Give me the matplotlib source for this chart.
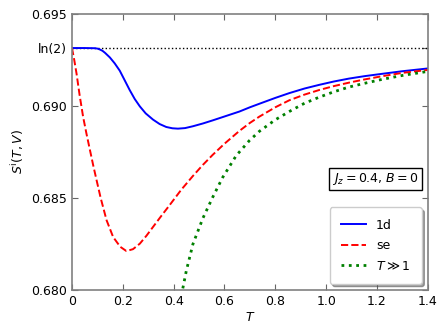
import numpy as np
from matplotlib import pyplot as plt

# 1d curve
T_1d = [0, 0.05, 0.09, 0.10, 0.11, 0.12, 0.13, 0.149, 0.168, 0.188, 0.207, 0.227, 0.247, 0.267,
        0.29, 0.319, 0.345, 0.371, 0.395, 0.417, 0.445, 0.476, 0.515, 0.554, 0.60,
        0.659, 0.70, 0.737, 0.80, 0.855, 0.915, 0.973, 1.03, 1.09, 1.15, 1.221, 1.30, 1.40]
S_1d = [0.69315, 0.69315, 0.69314, 0.69312, 0.69307, 0.69300, 0.69289, 0.69264, 0.69232,
        0.69192, 0.69141, 0.69087, 0.69038, 0.68998, 0.68960, 0.68926, 0.68902, 0.68886,
        0.68879, 0.68877, 0.68880, 0.68890, 0.68905, 0.68922, 0.68943, 0.68970, 0.68993,
        0.69012, 0.69044, 0.69070, 0.69095, 0.69115, 0.69133, 0.69149, 0.69162, 0.69175,
        0.69189, 0.69204]

# se curve
T_se = [0, 0.009, 0.018, 0.03, 0.044, 0.057, 0.071, 0.084, 0.097, 0.113, 0.136, 0.162,
        0.19, 0.214, 0.24, 0.267, 0.293, 0.319, 0.35, 0.384, 0.43, 0.476, 0.515, 0.554,
        0.60, 0.659, 0.70, 0.737, 0.80, 0.855, 0.915, 0.973, 1.03, 1.09, 1.15, 1.221, 1.30, 1.40]
S_se = [0.69315, 0.69250, 0.69176, 0.69060, 0.68940, 0.68850, 0.68759, 0.68675, 0.68596,
        0.68500, 0.68380, 0.68288, 0.68235, 0.68212, 0.68222, 0.68252, 0.68295, 0.68343,
        0.68400, 0.68461, 0.68545, 0.68620, 0.68680, 0.68735, 0.68795, 0.68865, 0.68908,
        0.68942, 0.68993, 0.69031, 0.69062, 0.69087, 0.69108, 0.69127, 0.69144, 0.69162,
        0.69180, 0.69196]

# high temperature curve
T_hi = [0.43, 0.437, 0.45, 0.476, 0.515, 0.554, 0.593, 0.646, 0.698, 0.737, 0.80, 0.855,
        0.915, 0.973, 1.03, 1.09, 1.15, 1.221, 1.30, 1.40]
S_hi = [0.6797, 0.68015, 0.68105, 0.68250, 0.68390, 0.68505, 0.68612, 0.68730, 0.68812,
        0.68862, 0.68925, 0.68970, 0.69015, 0.69048, 0.69077, 0.69103, 0.69123, 0.69145,
        0.69166, 0.69188]

xticks = [0, 0.2, 0.4, 0.6, 0.8, 1.0, 1.2, 1.4]
xlabels = ['0', '0.2', '0.4', '0.6', '0.8', '1.0', '1.2', '1.4']
yticks = [0.680, 0.685, 0.690, np.log(2), 0.695]
ylabels = ['0.680', '0.685', '0.690', 'ln(2)', '0.695']

plt.rcParams['font.size'] = 9
fig = plt.figure(figsize=(4.47, 3.33), dpi=100)
ax = fig.add_axes([0.161, 0.129, 0.796, 0.829])

ax.axhline(np.log(2), color='k', ls=':', lw=1)
ax.plot(T_1d, S_1d, 'b-', lw=1.4, label='1d')
ax.plot(T_se, S_se, 'r--', lw=1.4, label='se')
ax.plot(T_hi, S_hi, color='green', ls=':', lw=2, label=r'$T\gg1$')

ax.set_xlim(0, 1.4)
ax.set_ylim(0.680, 0.695)
ax.set_xticks(xticks)
ax.set_xticklabels(xlabels)
ax.set_yticks(yticks)
ax.set_yticklabels(ylabels)
ax.tick_params(direction='in', top=True, right=True, length=4, color='0.4')
for s in ax.spines.values():
    s.set_color('0.5')
    s.set_linewidth(1.2)

ax.set_xlabel(r'$T$', labelpad=2.5)
ax.set_ylabel(r'$S^{\rm i}(T,V)$')

ax.text(0.975, 0.402, r'$J_z=0.4$, $B=0$', transform=ax.transAxes, ha='right', va='center',
        bbox=dict(boxstyle='square,pad=0.25', fc='white', ec='k', lw=1))

ax.legend(loc='lower right', shadow=True, borderpad=0.9, labelspacing=0.6,
          handlelength=2.0)

fig.savefig('out.png')
